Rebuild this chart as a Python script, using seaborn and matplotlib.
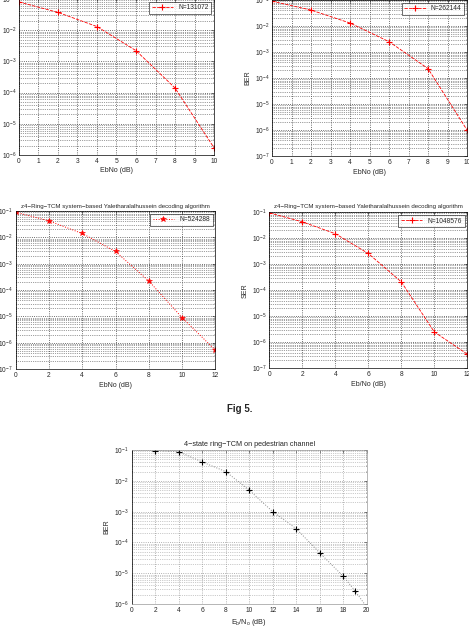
import numpy as np
import pandas as pd
import matplotlib
matplotlib.use("Agg")
import matplotlib.pyplot as plt
import matplotlib.ticker as mticker
import seaborn as sns

# values
ebno_10 = [0, 2, 4, 6, 8, 10]
ber_131072 = [0.08, 0.037, 0.013, 0.0022, 1.4e-4, 1.7e-6]
ber_262144 = [0.09, 0.041, 0.013, 0.0025, 2.3e-4, 1.0e-6]

ebno_12 = [0, 2, 4, 6, 8, 10, 12]
ser_524288 = [0.09, 0.042, 0.014, 0.0029, 2.2e-4, 9e-6, 5.2e-7]
ser_1048576 = [0.095, 0.043, 0.015, 0.0026, 2.1e-4, 2.5e-6, 3.5e-7]

ebno_ped = [2, 4, 6, 8, 10, 12, 14, 16, 18, 19, 20]
ber_ped = [0.095, 0.088, 0.041, 0.02, 0.005, 0.001, 2.8e-4, 4.6e-5, 8e-6, 2.7e-6, 8e-7]

title_z4 = "z4\u2212Ring\u2212TCM system\u2212based Yaletharalalhussein decoding algorithm"

sns.set_style("white")
plt.rcParams['font.family'] = ['Liberation Sans', 'DejaVu Sans']
plt.rcParams['mathtext.fontset'] = 'custom'
plt.rcParams['mathtext.rm'] = 'Liberation Sans'
plt.rcParams['mathtext.it'] = 'Liberation Sans:italic'

fig = plt.figure(figsize=(4.69, 6.35), dpi=100)

red_line = dict(color='red', linestyle=(0, (4, 1.5)), linewidth=0.6,
                marker='+', markersize=5, markeredgewidth=0.8,
                markeredgecolor='red', markerfacecolor='red')


def style_axes(ax, xlim, xticks, ylim, grid_color='0.25', spine_color='black'):
    ax.set_yscale('log')
    ax.set_xlim(*xlim)
    ax.set_ylim(*ylim)
    ax.set_xticks(xticks)
    ax.yaxis.set_major_locator(mticker.LogLocator(base=10, numticks=20))
    ax.yaxis.set_minor_locator(mticker.LogLocator(base=10, subs=np.arange(2, 10), numticks=20))
    ax.yaxis.set_minor_formatter(mticker.NullFormatter())
    ax.grid(True, which='major', axis='both', linestyle=':', linewidth=0.6, color=grid_color)
    ax.grid(True, which='minor', axis='y', linestyle=':', linewidth=0.5, color=grid_color)
    ax.tick_params(axis='both', which='major', labelsize=4.8, direction='in', length=2, width=0.4,
                   pad=2, top=True, right=True)
    ax.tick_params(axis='y', which='minor', direction='in', length=1, width=0.3, left=True, right=True)
    for sp in ax.spines.values():
        sp.set_linewidth(0.5)
        sp.set_color(spine_color)


def add_legend(ax):
    leg = ax.legend(loc='upper right', fontsize=4.8, frameon=True, fancybox=False,
                    borderpad=0.4, handlelength=3.2, borderaxespad=0.4)
    leg.get_frame().set_edgecolor('black')
    leg.get_frame().set_linewidth(0.5)


# top-left
ax1 = fig.add_axes([0.0405, 0.756, 0.4158, 0.2457])
sns.lineplot(x=ebno_10, y=ber_131072, ax=ax1, label='N=131072', **red_line)
style_axes(ax1, (0, 10), range(0, 11), (1e-6, 1e-1))
ax1.set_xlabel('EbNo (dB)', fontsize=5, labelpad=2)
ax1.set_ylabel('BER', fontsize=5, labelpad=0)
add_legend(ax1)

# top-right
ax2 = fig.add_axes([0.58, 0.7543, 0.4158, 0.2457])
sns.lineplot(x=ebno_10, y=ber_262144, ax=ax2, label='N=262144', **red_line)
style_axes(ax2, (0, 10), range(0, 11), (1e-7, 1e-1))
ax2.set_xlabel('EbNo (dB)', fontsize=5, labelpad=2)
ax2.set_ylabel('BER', fontsize=5, labelpad=2)
add_legend(ax2)

# bottom-left
ax3 = fig.add_axes([0.0335, 0.4189, 0.4256, 0.2488])
sns.lineplot(x=ebno_12, y=ser_524288, ax=ax3, color='red', linestyle=':', linewidth=0.7,
             marker='*', markersize=4, markeredgewidth=0.4, markeredgecolor='red',
             markerfacecolor='red', label='N=524288')
style_axes(ax3, (0, 12), range(0, 13, 2), (1e-7, 1e-1))
ax3.set_xlabel('EbNo (dB)', fontsize=5, labelpad=2)
ax3.set_ylabel('SER', fontsize=5, labelpad=0)
ax3.set_title(title_z4, fontsize=4.4, pad=2.5)
add_legend(ax3)

# bottom-right
ax4 = fig.add_axes([0.5742, 0.42, 0.4222, 0.2457])
sns.lineplot(x=ebno_12, y=ser_1048576, ax=ax4, label='N=1048576', **red_line)
style_axes(ax4, (0, 12), range(0, 13, 2), (1e-7, 1e-1))
ax4.set_xlabel('Eb/No (dB)', fontsize=5, labelpad=2)
ax4.set_ylabel('SER', fontsize=5, labelpad=2)
ax4.set_title(title_z4, fontsize=4.4, pad=3)
add_legend(ax4)

fig.text(0.512, 0.356, 'Fig 5.', fontsize=7, fontweight='bold', ha='center', va='center')

# bottom chart
ax5 = fig.add_axes([0.2808, 0.0488, 0.501, 0.2425])
sns.lineplot(x=ebno_ped, y=ber_ped, ax=ax5, color='0.55', linestyle=':', linewidth=0.7,
             marker='+', markersize=5, markeredgewidth=0.8, markeredgecolor='black')
style_axes(ax5, (0, 20), range(0, 21, 2), (1e-6, 1e-1), grid_color='0.6', spine_color='0.6')
ax5.spines['left'].set_color('black')
ax5.set_xlabel('$\\mathregular{E_b/N_o}$ (dB)', fontsize=5.2, labelpad=2)
ax5.set_ylabel('BER', fontsize=5, labelpad=3)
ax5.set_title('4\u2212state ring\u2212TCM on pedestrian channel', fontsize=5.2, pad=3)

fig.savefig('out.png', dpi=100)
